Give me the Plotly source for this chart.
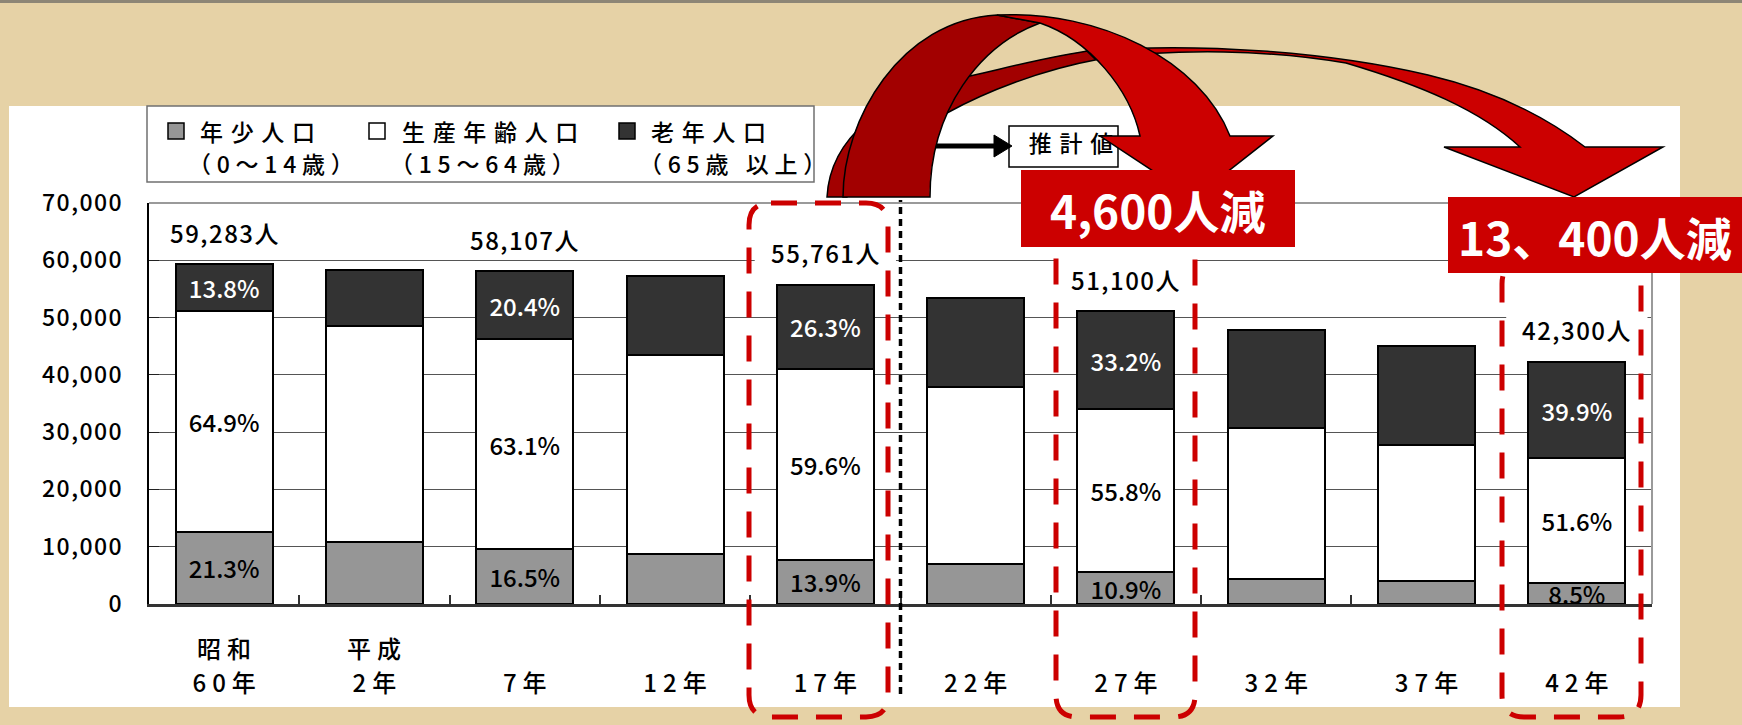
import plotly.graph_objects as go

# ---------------- data ----------------
categories = ["昭和60年", "平成2年", "7年", "12年", "17年", "22年", "27年", "32年", "37年", "42年"]
era_labels = ["昭和", "平成", "", "", "", "", "", "", "", ""]
year_labels = ["60年", "2年", "7年", "12年", "17年", "22年", "27年", "32年", "37年", "42年"]

young = [12627, 10800, 9588, 8800, 7751, 6900, 5570, 4300, 4000, 3596]
working = [38475, 37700, 36666, 34600, 33234, 31000, 28514, 26400, 23800, 21827]
elderly = [8181, 9800, 11853, 13900, 14776, 15600, 17016, 17200, 17300, 16877]

young_pct = ["21.3%", None, "16.5%", None, "13.9%", None, "10.9%", None, None, "8.5%"]
working_pct = ["64.9%", None, "63.1%", None, "59.6%", None, "55.8%", None, None, "51.6%"]
elderly_pct = ["13.8%", None, "20.4%", None, "26.3%", None, "33.2%", None, None, "39.9%"]
total_labels = ["59,283人", None, "58,107人", None, "55,761人", None, "51,100人", None, None, "42,300人"]

y_ticks = [0, 10000, 20000, 30000, 40000, 50000, 60000, 70000]

legend_names = ["年少人口", "生産年齢人口", "老年人口"]
legend_ages = ["（0～14歳）", "（15～64歳）", "（65歳 以上）"]
estimate_label = "推計値"
decrease_labels = ["4,600人減", "13、400人減"]

# ---------------- geometry / style ----------------
FIG_W, FIG_H = 1742, 725
ML, MR, MT, MB = 149, 90, 203, 121          # plot-area position in pixels
PW = FIG_W - ML - MR
PH = FIG_H - MT - MB
YMAX = 70000
N = len(categories)
FONT = "Noto Sans CJK JP, Noto Sans, DejaVu Sans, sans-serif"
W = 500  # font weight
HAIR, THREE, FOUR = "\u200a", "\u2004", "\u2005"
RED, DARKRED = "#cc0000", "#a20000"
BG = "#e6d2a6"
C_YOUNG, C_WORK, C_OLD = "#969696", "#ffffff", "#333333"


def sp(s, ch):
    return ch.join(list(s))


def fnt(size, color="black", weight=W):
    return dict(family=FONT, size=size, color=color, weight=weight)


def pp(x, y):
    """pixel -> paper (figure fraction, margins are zero)"""
    return x / FIG_W, 1 - y / FIG_H


def path(cmds):
    out = []
    for c in cmds:
        op, pts = c[0], c[1:]
        if op == "Z":
            out.append("Z")
            continue
        coords = []
        for i in range(0, len(pts), 2):
            a, b = pp(pts[i], pts[i + 1])
            coords.append(f"{a:.5f},{b:.5f}")
        out.append(op + " " + " ".join(coords))
    return " ".join(out)


def rrect(x0, y0, x1, y1, r):
    return path([("M", x0 + r, y0), ("L", x1 - r, y0), ("Q", x1, y0, x1, y0 + r),
                 ("L", x1, y1 - r), ("Q", x1, y1, x1 - r, y1), ("L", x0 + r, y1),
                 ("Q", x0, y1, x0, y1 - r), ("L", x0, y0 + r), ("Q", x0, y0, x0 + r, y0), ("Z",)])


def prect(x0, y0, x1, y1, fill, line=None, lw=0, layer="below"):
    a0, b0 = pp(x0, y1)
    a1, b1 = pp(x1, y0)
    return dict(type="rect", xref="paper", yref="paper", x0=a0, y0=b0, x1=a1, y1=b1,
                fillcolor=fill, layer=layer, line=dict(width=lw, color=line or fill))


def ppath(cmds, fill, line="black", lw=1.5, layer="above", dash=None):
    ln = dict(color=line, width=lw)
    if dash:
        ln["dash"] = dash
    return dict(type="path", xref="paper", yref="paper",
                path=path(cmds) if isinstance(cmds, list) else cmds,
                fillcolor=fill, line=ln, layer=layer)


x_idx = list(range(N))
fig = go.Figure()

for name, vals, pct, col, tcol in [
    ("年少人口（0～14歳）", young, young_pct, C_YOUNG, "black"),
    ("生産年齢人口（15～64歳）", working, working_pct, C_WORK, "black"),
    ("老年人口（65歳以上）", elderly, elderly_pct, C_OLD, "white"),
]:
    fig.add_trace(go.Bar(
        x=x_idx, y=vals, name=name,
        marker=dict(color=col, line=dict(color="black", width=2)),
        text=[p if p else "" for p in pct], textposition="inside", insidetextanchor="middle",
        textfont=fnt(24, tcol), constraintext="none",
        hoverinfo="skip", showlegend=False,
    ))

totals = [a + b + c for a, b, c in zip(young, working, elderly)]
U = YMAX / PH  # data units per pixel

# "推計値" text on a full-figure overlay subplot (pixel coordinates) so the red arch can overlap it
fig.add_trace(go.Scatter(
    x=[1071], y=[146], xaxis="x2", yaxis="y2",
    mode="text", text=[sp(estimate_label, THREE)], cliponaxis=False,
    textfont=fnt(23), hoverinfo="skip", showlegend=False,
))

shapes = []
annotations = []

# background pieces
shapes.append(prect(0, 0, FIG_W, 3, "#8d8676"))
shapes.append(prect(9, 106, 1680, 707, "white"))
# legend box
shapes.append(prect(147, 106, 814, 182, "white", "#707070", 1.5))
leg_sq_x = [168, 369, 619]
leg_txt_x = [198, 400, 649]
for sx, tx, col, nm, ag in zip(leg_sq_x, leg_txt_x, [C_YOUNG, C_WORK, C_OLD], legend_names, legend_ages):
    shapes.append(prect(sx, 123, sx + 16, 139, col, "black", 1.5))
    a, b = pp(tx, 131)
    annotations.append(dict(xref="paper", yref="paper", x=a, y=b, xanchor="left", yanchor="middle",
                            text=sp(nm, THREE), showarrow=False, font=fnt(23)))
    a, b = pp(tx - 12, 163)
    line2 = FOUR.join(FOUR.join(part) for part in ag.split(" "))
    annotations.append(dict(xref="paper", yref="paper", x=a, y=b, xanchor="left", yanchor="middle",
                            text=line2.replace("歳" + FOUR + "以", "歳" + FOUR + FOUR + FOUR + "以"),
                            showarrow=False, font=fnt(23)))

# 推計値 box and pointer arrow
shapes.append(prect(1009, 126, 1118, 167, "white", "black", 1.5))
a0, b0 = pp(905, 146)
a1, b1 = pp(996, 146)
shapes.append(dict(type="line", xref="paper", yref="paper", x0=a0, y0=b0, x1=a1, y1=b1,
                   line=dict(color="black", width=5), layer="below"))
shapes.append(ppath([("M", 994, 135), ("L", 1012, 146), ("L", 994, 157), ("Z",)], "black", "black", 1, "below"))

# white boxes behind total labels (hide gridlines)
LBL_SHIFT = 32
for i, t in enumerate(total_labels):
    if t:
        shapes.append(dict(type="rect", xref="x", yref="y", x0=i - 0.47, x1=i + 0.47,
                           y0=totals[i] + (LBL_SHIFT - 20) * U, y1=totals[i] + (LBL_SHIFT + 20) * U,
                           fillcolor="white", line=dict(width=0), layer="above"))
        annotations.append(dict(xref="x", yref="y", x=i, y=totals[i], yshift=LBL_SHIFT,
                                text=sp(t, HAIR), showarrow=False, yanchor="middle", font=fnt(24)))

# plot frame top/right (gray)
shapes.append(ppath([("M", ML, MT), ("L", ML + PW, MT), ("L", ML + PW, MT + PH)], "rgba(0,0,0,0)", "#9a9a9a", 2))

# dotted separator between actual and estimate
shapes.append(dict(type="line", xref="x", yref="paper", x0=4.5, x1=4.5,
                   y0=pp(0, 694)[1], y1=pp(0, 200)[1],
                   line=dict(color="black", width=3.5, dash="7px,5px"), layer="above"))

# red dashed rounded boxes
for x0, y0, x1 in [(749, 203, 888), (1056, 236, 1195), (1502, 262, 1641)]:
    shapes.append(ppath(rrect(x0, y0, x1, 717, 22), "rgba(0,0,0,0)", RED, 5, dash="26px,18px"))

# curved arrow to 42年 (behind)
shapes.append(ppath([("M", 827, 197), ("C", 830, 140, 880, 95, 970, 76), ("C", 1010, 67, 1050, 56, 1095, 50),
                     ("L", 1100, 59), ("C", 1040, 70, 985, 92, 947, 113), ("C", 900, 140, 860, 170, 847, 197), ("Z",)],
                    DARKRED))
shapes.append(ppath([("M", 1087, 51), ("C", 1200, 42, 1330, 52, 1428, 75), ("C", 1500, 92, 1550, 120, 1585, 147),
                     ("L", 1663, 147), ("L", 1574, 197), ("L", 1444, 147), ("L", 1520, 147),
                     ("C", 1480, 110, 1420, 85, 1346, 63), ("C", 1270, 50, 1180, 48, 1095, 59), ("Z",)], RED))
# curved arrow to 27年 (front)
shapes.append(ppath([("M", 843, 197), ("C", 843, 120, 900, 20, 997, 15), ("L", 1040, 23),
                     ("C", 980, 45, 930, 110, 930, 197), ("Z",)], DARKRED))
shapes.append(ppath([("M", 997, 15), ("C", 1100, 10, 1200, 60, 1230, 136), ("L", 1273, 136), ("L", 1194, 198),
                     ("L", 1100, 136), ("L", 1140, 136), ("C", 1130, 90, 1090, 40, 1040, 23), ("Z",)], RED))

# red decrease labels
for (x0, y0, x1, y1, cx, cy), txt in zip([(1021, 170, 1295, 247, 1158, 209), (1448, 197, 1742, 273, 1595, 236)],
                                          decrease_labels):
    shapes.append(prect(x0, y0, x1, y1, RED, layer="above"))
    a, b = pp(cx, cy)
    annotations.append(dict(xref="paper", yref="paper", x=a, y=b, xanchor="center", yanchor="middle",
                            text=f"<b>{txt}</b>", showarrow=False, font=fnt(46, "white", 700)))

# era labels above year tick labels
for i, e in enumerate(era_labels):
    if e:
        annotations.append(dict(xref="x", yref="paper", x=i, y=pp(0, 647)[1], yanchor="middle",
                                text=sp(e, FOUR), showarrow=False, font=fnt(24)))

fig.update_layout(
    width=FIG_W, height=FIG_H,
    margin=dict(l=0, r=0, t=0, b=0, autoexpand=False),
    paper_bgcolor=BG, plot_bgcolor="rgba(0,0,0,0)",
    barmode="stack", bargap=0.355,
    showlegend=False,
    font=dict(family=FONT, color="black"),
    shapes=shapes, annotations=annotations,
    xaxis=dict(domain=[ML / FIG_W, (ML + PW) / FIG_W], anchor="y",
               range=[-0.5, N - 0.5], tickmode="array", tickvals=x_idx,
               ticktext=[sp(t, FOUR) for t in year_labels], ticks="", showgrid=False, zeroline=False,
               showline=True, linecolor="#333", linewidth=3, automargin=False,
               tickfont=fnt(24), ticklabelstandoff=56,
               minor=dict(tickmode="array", tickvals=[i + 0.5 for i in range(N - 1)], ticks="inside",
                          ticklen=9, tickcolor="#333", tickwidth=1.5, showgrid=False)),
    yaxis=dict(domain=[MB / FIG_H, (MB + PH) / FIG_H], anchor="x",
               range=[0, YMAX], tickmode="array", tickvals=y_ticks,
               ticktext=[sp(f"{v:,}", HAIR) for v in y_ticks], showgrid=True, gridcolor="#555",
               gridwidth=1, zeroline=False, showline=True, linecolor="black", linewidth=1.5,
               ticks="inside", ticklen=10, tickcolor="#222", automargin=False,
               tickfont=fnt(23), ticklabelstandoff=21),
    xaxis2=dict(domain=[0, 1], range=[0, FIG_W], visible=False, anchor="y2", fixedrange=True),
    yaxis2=dict(domain=[0, 1], range=[FIG_H, 0], visible=False, anchor="x2", fixedrange=True),
)

fig.write_html("out.html")
